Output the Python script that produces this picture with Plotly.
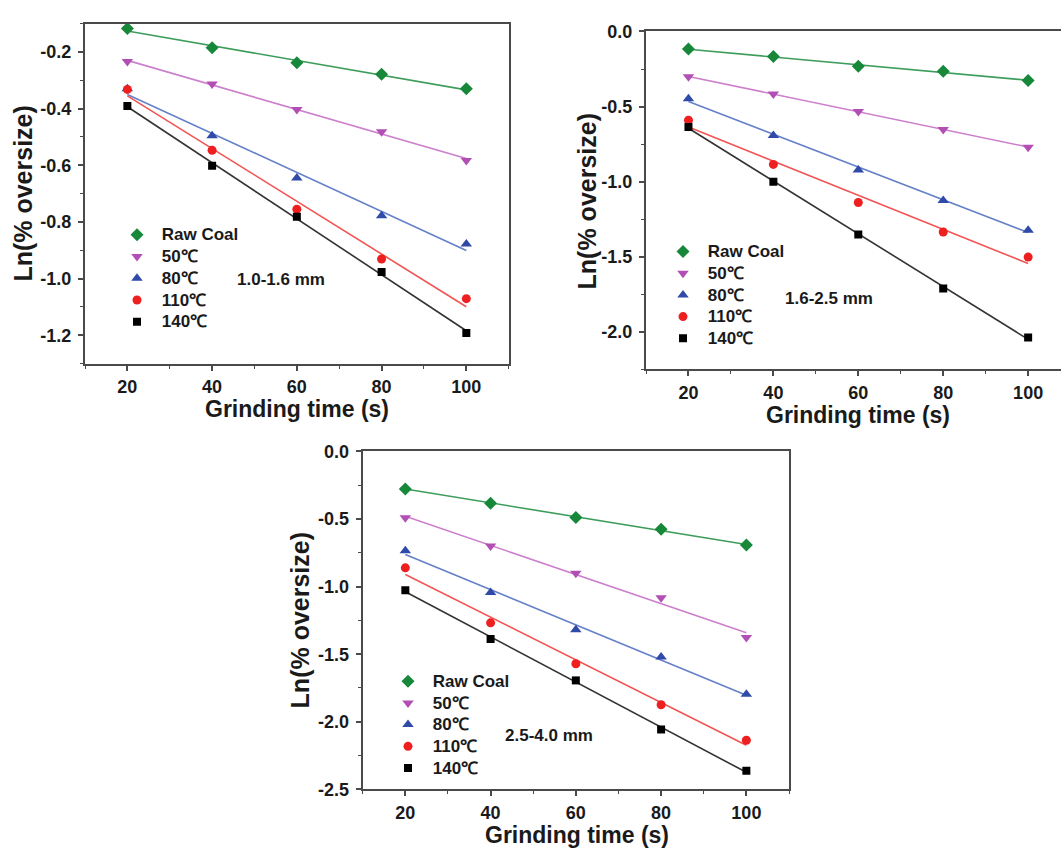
import numpy as np
import plotly.graph_objects as go

W, H = 1061, 856

# ---------------- data ----------------
times = [20, 40, 60, 80, 100]
series_names = ["Raw Coal", "50℃", "80℃", "110℃", "140℃"]

# panel 1 : 1.0-1.6 mm
p1_raw = [-0.117, -0.185, -0.238, -0.279, -0.330]
p1_50 = [-0.234, -0.313, -0.403, -0.482, -0.583]
p1_80 = [-0.330, -0.496, -0.645, -0.778, -0.878]
p1_110 = [-0.332, -0.547, -0.755, -0.931, -1.071]
p1_140 = [-0.391, -0.602, -0.782, -0.977, -1.192]

# panel 2 : 1.6-2.5 mm
p2_raw = [-0.117, -0.167, -0.232, -0.264, -0.327]
p2_50 = [-0.301, -0.416, -0.532, -0.652, -0.771]
p2_80 = [-0.448, -0.693, -0.922, -1.126, -1.323]
p2_110 = [-0.591, -0.885, -1.139, -1.335, -1.502]
p2_140 = [-0.636, -1.000, -1.351, -1.712, -2.037]

# panel 3 : 2.5-4.0 mm
p3_raw = [-0.277, -0.383, -0.488, -0.575, -0.693]
p3_50 = [-0.491, -0.700, -0.902, -1.083, -1.376]
p3_80 = [-0.734, -1.044, -1.319, -1.521, -1.797]
p3_110 = [-0.861, -1.268, -1.571, -1.874, -2.137]
p3_140 = [-1.027, -1.388, -1.694, -2.057, -2.363]

panel_labels = ["1.0-1.6 mm", "1.6-2.5 mm", "2.5-4.0 mm"]

x_tickvals = [20, 40, 60, 80, 100]
x_ticktext = ["20", "40", "60", "80", "100"]
y1_tickvals = [-1.2, -1.0, -0.8, -0.6, -0.4, -0.2]
y1_ticktext = ["-1.2", "-1.0", "-0.8", "-0.6", "-0.4", "-0.2"]
y2_tickvals = [-2.0, -1.5, -1.0, -0.5, 0.0]
y2_ticktext = ["-2.0", "-1.5", "-1.0", "-0.5", "0.0"]
y3_tickvals = [-2.5, -2.0, -1.5, -1.0, -0.5, 0.0]
y3_ticktext = ["-2.5", "-2.0", "-1.5", "-1.0", "-0.5", "0.0"]

# ---------------- styles ----------------
marker_colors = ["#17883a", "#b24fb4", "#2f4aa8", "#ee1f1f", "#000000"]
line_colors = ["#3f9d5c", "#cc7fcc", "#6580c9", "#f25454", "#333333"]
symbols = ["diamond", "triangle-down", "triangle-up", "circle", "square"]
sizes = [10, 10, 10, 9, 8]
FONT = "Liberation Sans, Arial, sans-serif"
TXT = "#1a1a1a"
AX = "#4a4a4a"


def px_x(p):
    return p / W


def px_y(p):
    return (H - p) / H


panels = [
    dict(data=[p1_raw, p1_50, p1_80, p1_110, p1_140],
         xd=[px_x(85), px_x(508.7)], yd=[px_y(362), px_y(14)],
         xr=[10, 110], yr=[-1.3, -0.1], ymin=0.1,
         yt=(y1_tickvals, y1_ticktext), ymirror=True,
         legend=dict(x=px_x(117), y=px_y(214)),
         label=(px_x(235), px_y(276)),
         xtitle=(px_x(297), px_y(408.5)), ytitle=(px_x(23), px_y(188))),
    dict(data=[p2_raw, p2_50, p2_80, p2_110, p2_140],
         xd=[px_x(646), 1.0], yd=[px_y(368), px_y(22)],
         xr=[10, 107.74], yr=[-2.25, 0.0], ymin=0.25,
         yt=(y2_tickvals, y2_ticktext), ymirror=False,
         legend=dict(x=px_x(663), y=px_y(231)),
         label=(px_x(782.5), px_y(295)),
         xtitle=(px_x(858), px_y(414.5)), ytitle=(px_x(587), px_y(196))),
    dict(data=[p3_raw, p3_50, p3_80, p3_110, p3_140],
         xd=[px_x(362.7), px_x(789)], yd=[px_y(798), px_y(452)],
         xr=[10, 110], yr=[-2.5, 0.0], ymin=0.25,
         yt=(y3_tickvals, y3_ticktext), ymirror=True,
         legend=dict(x=px_x(388), y=px_y(671)),
         label=(px_x(502.5), px_y(743)),
         xtitle=(px_x(577), px_y(844.5)), ytitle=(px_x(300), px_y(625))),
]

fig = go.Figure()
annotations = []
layout = {}

for i, p in enumerate(panels):
    n = i + 1
    xa = "x" if n == 1 else f"x{n}"
    ya = "y" if n == 1 else f"y{n}"
    leg = "legend" if n == 1 else f"legend{n}"
    tx = np.array(times, dtype=float)
    # regression lines fitted to each series
    for k, ys in enumerate(p["data"]):
        slope, inter = np.polyfit(tx, np.array(ys), 1)
        xs = [tx.min(), tx.max()]
        fig.add_trace(go.Scatter(
            x=xs, y=[slope * v + inter for v in xs], mode="lines",
            line=dict(color=line_colors[k], width=1.6),
            showlegend=False, hoverinfo="skip", xaxis=xa, yaxis=ya))
    # data points
    for k, ys in enumerate(p["data"]):
        fig.add_trace(go.Scatter(
            x=times, y=ys, mode="markers",
            name=f'<span style="font-size:17px">\u00a0{series_names[k]}</span>',
            marker=dict(symbol=symbols[k], size=sizes[k], color=marker_colors[k],
                        line=dict(width=0)),
            legend=leg, xaxis=xa, yaxis=ya))

    axis_common = dict(showgrid=False, zeroline=False, linecolor=AX, linewidth=2,
                       ticks="outside", ticklen=5, tickwidth=1.5, tickcolor=AX,
                       tickfont=dict(family=FONT, size=18, color=TXT, weight="bold"))
    layout[f"xaxis{'' if n == 1 else n}"] = dict(
        axis_common, domain=p["xd"], range=p["xr"], anchor=ya, mirror=True,
        tickvals=x_tickvals, ticktext=x_ticktext, ticklabelstandoff=1,
        minor=dict(dtick=10, tick0=0, ticks="outside", ticklen=3, tickwidth=1.2,
                   tickcolor=AX))
    layout[f"yaxis{'' if n == 1 else n}"] = dict(
        axis_common, domain=p["yd"], range=p["yr"], anchor=xa, mirror=p["ymirror"],
        tickvals=p["yt"][0], ticktext=p["yt"][1], ticklabelstandoff=3,
        minor=dict(dtick=p["ymin"], tick0=0, ticks="outside", ticklen=3, tickwidth=1.2,
                   tickcolor=AX))
    layout[leg] = dict(x=p["legend"]["x"], y=p["legend"]["y"], xanchor="left", yanchor="top",
                       bgcolor="rgba(0,0,0,0)", borderwidth=0,
                       font=dict(family=FONT, size=14.4, color=TXT, weight="bold"),
                       tracegroupgap=0, itemclick=False)
    annotations.append(dict(text=panel_labels[i], x=p["label"][0], y=p["label"][1],
                            xref="paper", yref="paper", xanchor="left", yanchor="middle",
                            showarrow=False,
                            font=dict(family=FONT, size=17, color=TXT, weight="bold")))
    annotations.append(dict(text="Grinding time (s)", x=p["xtitle"][0], y=p["xtitle"][1],
                            xref="paper", yref="paper", xanchor="center", yanchor="middle",
                            showarrow=False,
                            font=dict(family=FONT, size=23, color=TXT, weight="bold")))
    annotations.append(dict(text="Ln(% oversize)", x=p["ytitle"][0], y=p["ytitle"][1],
                            xref="paper", yref="paper", xanchor="center", yanchor="middle",
                            textangle=-90, showarrow=False,
                            font=dict(family=FONT, size=25, color=TXT, weight="bold")))

fig.update_layout(**layout)
fig.update_layout(width=W, height=H, margin=dict(l=0, r=0, t=0, b=0),
                  paper_bgcolor="white", plot_bgcolor="white",
                  annotations=annotations, showlegend=True)

fig.write_html("out.html", config={"displayModeBar": False},
               post_script="document.body.style.margin='0';document.body.style.overflow='hidden';")
